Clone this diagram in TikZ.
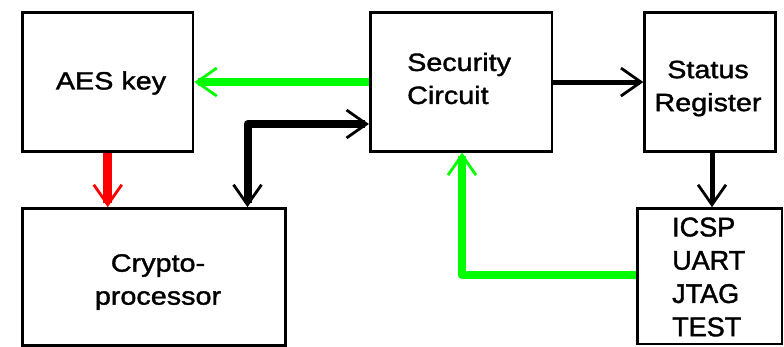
\documentclass[tikz,border=0pt]{standalone}
\usepackage{fontspec}
\newfontfamily\widefont[FakeStretch=1.15,FakeBold=1.5]{Liberation Sans}
\newfontfamily\plainfont[FakeBold=1.5]{Liberation Sans}
\usetikzlibrary{arrows.meta}
\definecolor{arrowgreen}{HTML}{00FF00}
\definecolor{arrowred}{HTML}{FF0000}
\begin{document}
\begin{tikzpicture}[x=1pt,y=-1pt,
  box/.style={draw=black,line width=2.7pt,inner sep=0pt,minimum width=#1},
  lbl/.style={inner sep=0pt,font=\widefont\fontsize{25}{33}\selectfont},
  lblb/.style={inner sep=0pt,font=\plainfont\fontsize{27}{33.3}\selectfont,align=left},
  barb/.style={-{Straight Barb[length=20pt,width=28pt,line width=2.8pt]}},
  thickline/.style={line width=#1,line join=round}]
\useasboundingbox[fill=white] (0,0) rectangle (784,347);
% boxes
\node[box=170.5pt,minimum height=138.5pt] (aes) at (107.75,82.05) {};
\node[box=262.8pt,minimum height=137pt] (crypto) at (153.9,277) {};
\node[box=181.7pt,minimum height=138.5pt] (sec) at (461.15,82.05) {};
\node[box=130.8pt,minimum height=138.5pt] (stat) at (710.1,82.05) {};
\node[box=144.7pt,minimum height=135.5pt] (icsp) at (709.65,276.25) {};
% labels
\node[lbl] (taes) at (111,83) {AES key};
\node[lbl,align=center] (tcrypto) at (158,282) {Crypto-\\processor};
\node[lbl,align=left,anchor=west] (tsec) at (407,78.5) {Security\\Circuit};
\node[lbl,align=center] (tstat) at (708,88.5) {Status\\Register};
\node[lblb,anchor=west] (ticsp) at (672,277) {ICSP\\UART\\JTAG\\TEST};
% helper coordinates
\coordinate (L1) at (247.5,124);
\coordinate (G1) at (462,275);
\coordinate (S1) at (712,152);
% connectors
\draw[thickline=8.5pt,arrowgreen,barb] (sec.west) -- (aes.east);
\draw[thickline=9pt,arrowred,barb] (aes.south) -- (aes.south |- crypto.north);
\draw[thickline=8pt,black,{Straight Barb[length=20pt,width=28pt,line width=2.8pt]}-{Straight Barb[length=20pt,width=28pt,line width=2.8pt]}]
  (L1 |- crypto.north) -- (L1) -- (L1 -| sec.west);
\draw[thickline=5pt,black,barb] (sec.east) -- (stat.west);
\draw[thickline=5pt,black,barb] (S1 |- stat.south) -- (S1 |- icsp.north);
\draw[thickline=8.5pt,arrowgreen,barb] (G1 -| icsp.west) -- (G1) -- (G1 |- sec.south);
\end{tikzpicture}
\end{document}
